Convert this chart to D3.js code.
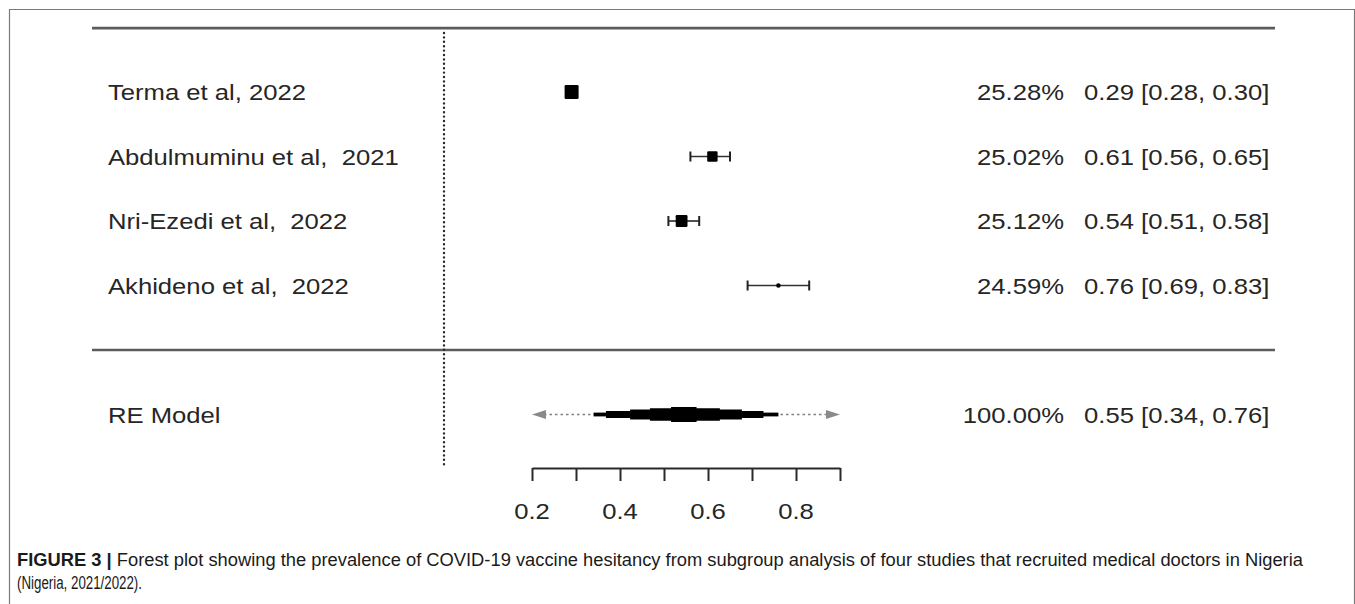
<!DOCTYPE html>
<html><head><meta charset="utf-8">
<script src="https://cdn.jsdelivr.net/npm/d3@7"></script>
<style>body{margin:0;background:#fff}svg{display:block}text{white-space:pre}</style>
</head><body>
<svg id="c" width="1355" height="604"></svg>
<script>
// ---- data ----
const studies = ["Terma et al, 2022", "Abdulmuminu et al,  2021", "Nri-Ezedi et al,  2022", "Akhideno et al,  2022"];
const estimates = [0.29, 0.61, 0.54, 0.76];
const lowers = [0.28, 0.56, 0.51, 0.69];
const uppers = [0.30, 0.65, 0.58, 0.83];
const weights = [25.28, 25.02, 25.12, 24.59];
const summaryLabel = "RE Model";
const summaryEst = 0.55, summaryLo = 0.34, summaryHi = 0.76, summaryWeight = 100.00;
const summaryBandsLo = [0.34, 0.368, 0.423, 0.468, 0.516];
const summaryBandsHi = [0.76, 0.726, 0.677, 0.627, 0.574];
const predLo = 0.2, predHi = 0.9;
const axisTicks = [0.2, 0.3, 0.4, 0.5, 0.6, 0.7, 0.8, 0.9];
const axisLabels = ["0.2", "", "0.4", "", "0.6", "", "0.8", ""];
const captionBold = "FIGURE 3 |";
const captionLine1 = " Forest plot showing the prevalence of COVID-19 vaccine hesitancy from subgroup analysis of four studies that recruited medical doctors in Nigeria";
const captionLine2 = "(Nigeria, 2021/2022).";

// ---- drawing ----
const svg = d3.select("#c");
const font = "'Liberation Sans', Arial, Helvetica, sans-serif";
const fs = 22.5, sx = 1.14;
const ink = "#262626";

const x = d3.scaleLinear().domain([0.2, 0.9]).range([532, 840]);
const y = d3.scaleLinear().domain([0, 5]).range([92, 414.5]);
const size = d3.scaleLinear().domain([d3.min(weights), d3.max(weights)]).range([4.5, 14]);

// frame
svg.append("path").attr("d", "M9.5,604 V9.5 H1354.5 V604")
  .attr("fill", "none").attr("stroke", "#7a7a7a").attr("stroke-width", 1.2);

// horizontal rules
[y(-0.99), y(4)].forEach(yy => {
  svg.append("line").attr("x1", 92).attr("x2", 1275).attr("y1", yy).attr("y2", yy)
    .attr("stroke", "#5c5c5c").attr("stroke-width", 2.6);
});

// null line
svg.append("line").attr("x1", x(0)).attr("x2", x(0)).attr("y1", 33).attr("y2", 468)
  .attr("stroke", "#2a2a2a").attr("stroke-width", 2.4).attr("stroke-linecap", "round")
  .attr("stroke-dasharray", "0,4.4");

function txt(str, xx, yy, anchor) {
  return svg.append("text").attr("transform", `translate(${xx},${yy}) scale(${sx},1)`)
    .attr("text-anchor", anchor).attr("font-family", font).attr("font-size", fs)
    .attr("fill", ink).text(str);
}

// study rows
studies.forEach((s, i) => {
  const yy = y(i);
  txt(s, 108, yy + 8, "start");
  svg.append("line").attr("x1", x(lowers[i])).attr("x2", x(uppers[i])).attr("y1", yy).attr("y2", yy)
    .attr("stroke", "#333").attr("stroke-width", 1.7);
  [lowers[i], uppers[i]].forEach(v => {
    svg.append("line").attr("x1", x(v)).attr("x2", x(v)).attr("y1", yy - 5).attr("y2", yy + 5)
      .attr("stroke", "#222").attr("stroke-width", 2);
  });
  const s2 = size(weights[i]);
  svg.append("rect").attr("x", x(estimates[i]) - s2 / 2).attr("y", yy - s2 / 2)
    .attr("width", s2).attr("height", s2).attr("rx", s2 > 6 ? 1.2 : s2 / 2).attr("fill", "#000");
  txt(weights[i].toFixed(2) + "%", 1064, yy + 8, "end");
  txt(`${estimates[i].toFixed(2)} [${lowers[i].toFixed(2)}, ${uppers[i].toFixed(2)}]`, 1084, yy + 8, "start");
});

// summary row
const ys = y(5);
txt(summaryLabel, 108, ys + 8, "start");
svg.append("line").attr("x1", x(predLo) + 12).attr("x2", x(predHi) - 12).attr("y1", ys).attr("y2", ys)
  .attr("stroke", "#808080").attr("stroke-width", 1.6).attr("stroke-dasharray", "2.5,3");
[[predLo, 1], [predHi, -1]].forEach(([v, dir]) => {
  const tx = x(v);
  svg.append("path").attr("d", `M${tx},${ys} L${tx + dir * 14},${ys - 4.5} L${tx + dir * 14},${ys + 4.5} Z`)
    .attr("fill", "#8a8a8a");
});
const bandH = [3.8, 7, 10, 12.5, 15];
summaryBandsLo.forEach((lo, i) => {
  svg.append("rect").attr("x", x(lo)).attr("width", x(summaryBandsHi[i]) - x(lo))
    .attr("y", ys - bandH[i] / 2).attr("height", bandH[i]).attr("fill", "#000");
});
txt(summaryWeight.toFixed(2) + "%", 1064, ys + 8, "end");
txt(`${summaryEst.toFixed(2)} [${summaryLo.toFixed(2)}, ${summaryHi.toFixed(2)}]`, 1084, ys + 8, "start");

// axis
const ax = svg.append("g").attr("transform", "translate(0,468)")
  .call(d3.axisBottom(x).tickValues(axisTicks).tickSize(13).tickSizeOuter(0).tickFormat(""));
ax.select(".domain").attr("stroke", "#2a2a2a").attr("stroke-width", 2);
ax.selectAll(".tick line").attr("stroke", "#2a2a2a").attr("stroke-width", 2);
axisTicks.forEach((t, i) => {
  if (axisLabels[i]) txt(axisLabels[i], x(t), 519, "middle");
});

// caption
const capFont = "'Liberation Sans', Arial, sans-serif";
const cap = svg.append("text").attr("x", 17).attr("y", 566)
  .attr("font-family", capFont).attr("font-size", 17.5).attr("fill", "#1a1a1a")
  .attr("textLength", 1286).attr("lengthAdjust", "spacingAndGlyphs");
cap.append("tspan").attr("font-weight", "bold").text(captionBold);
cap.append("tspan").text(captionLine1);
svg.append("text").attr("x", 17).attr("y", 589)
  .attr("font-family", capFont).attr("font-size", 17.5).attr("fill", "#1a1a1a")
  .attr("textLength", 125).attr("lengthAdjust", "spacingAndGlyphs").text(captionLine2);
</script>
</body></html>
